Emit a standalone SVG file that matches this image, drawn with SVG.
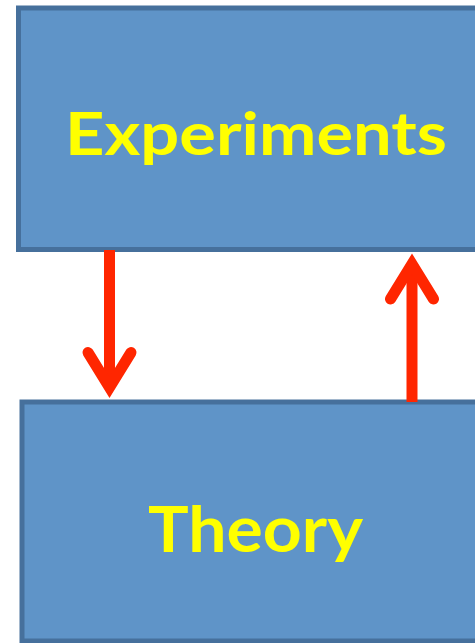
<svg xmlns="http://www.w3.org/2000/svg" width="475" height="643" viewBox="0 0 475 643">
<style>
.box{fill:#5f94c8;stroke:#46709c;stroke-width:5}
.lbl{fill:#ffff00;font-family:Lato,"Open Sans","Liberation Sans",sans-serif;font-weight:bold;text-anchor:middle}
.arr{stroke:#ff2600;stroke-width:11;fill:none}
</style>
<defs>
<marker id="chev" markerUnits="userSpaceOnUse" viewBox="-50 -30 70 60" markerWidth="70" markerHeight="60" refX="0" refY="0" orient="auto" overflow="visible">
<path d="M-35,-21.5 L0,0 L-35,21.5" fill="none" stroke="#ff2600" stroke-width="11" stroke-linecap="round" stroke-linejoin="miter" stroke-miterlimit="10"/>
</marker>
</defs>
<rect width="475" height="643" fill="#ffffff"/>
<g id="experiments">
<rect class="box" x="18.5" y="8" width="470" height="241.5"/>
<text class="lbl" x="256" y="155" font-size="60" textLength="382" lengthAdjust="spacingAndGlyphs">Experiments</text>
</g>
<g id="theory">
<rect class="box" x="22" y="402" width="470" height="239"/>
<text class="lbl" x="255.5" y="552" font-size="64" textLength="215" lengthAdjust="spacingAndGlyphs">Theory</text>
</g>
<g id="connectors">
<line class="arr" x1="109.5" y1="250" x2="109.5" y2="387.5" marker-end="url(#chev)"/>
<line class="arr" x1="412" y1="402" x2="412" y2="264" marker-end="url(#chev)"/>
</g>
</svg>
